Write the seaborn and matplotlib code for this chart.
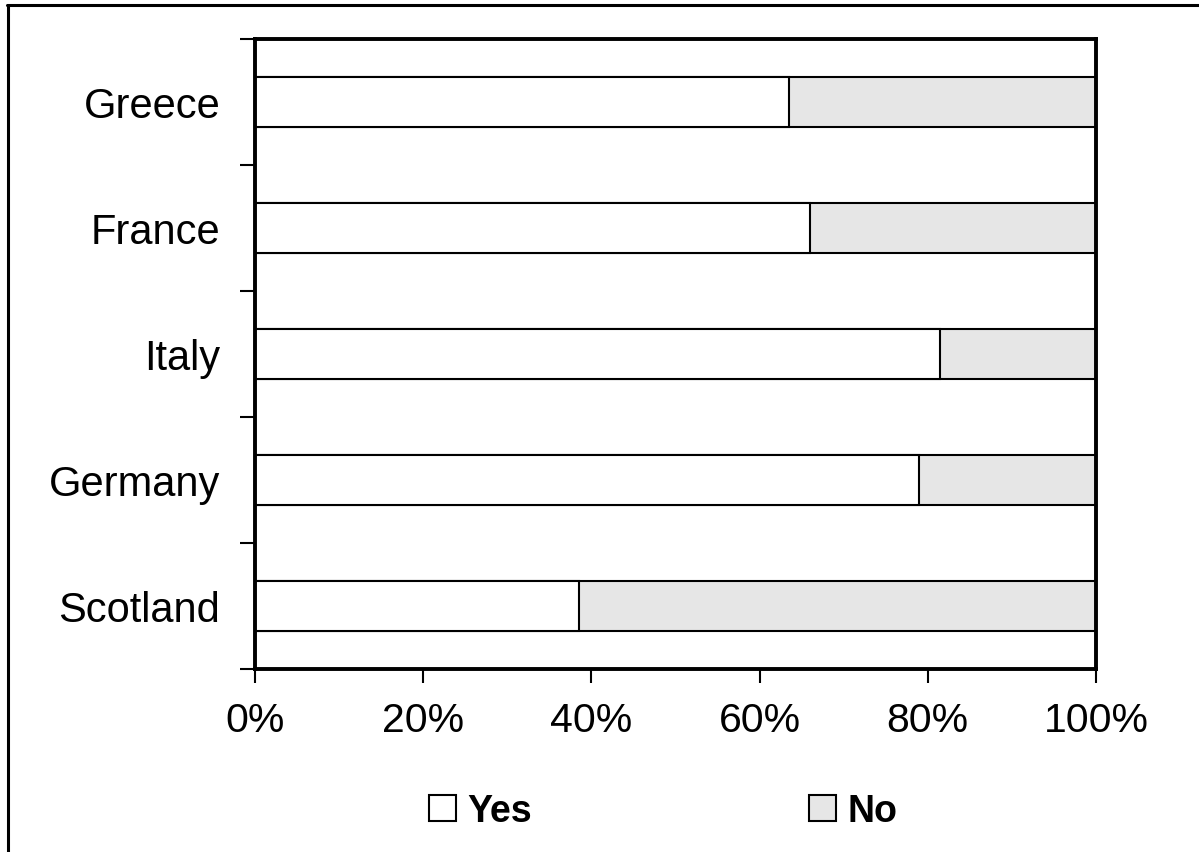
import matplotlib
matplotlib.use("Agg")
import matplotlib.pyplot as plt
import seaborn as sns
import pandas as pd
import numpy as np
from matplotlib.lines import Line2D
from matplotlib.patches import Patch
from matplotlib.ticker import FixedLocator, PercentFormatter

countries = ["Greece", "France", "Italy", "Germany", "Scotland"]
yes = [63.5, 66.0, 81.5, 79.0, 38.5]
no = [36.5, 34.0, 18.5, 21.0, 61.5]
xticks = [0, 20, 40, 60, 80, 100]

sns.set_style("white")
plt.rcParams["font.family"] = ["Liberation Sans", "DejaVu Sans"]
plt.rcParams["text.color"] = "black"
plt.rcParams["xtick.color"] = "black"
plt.rcParams["ytick.color"] = "black"
plt.rcParams["axes.labelcolor"] = "black"

df = pd.DataFrame({"country": countries, "yes": yes, "no": no})
df["total"] = df["yes"] + df["no"]

fig = plt.figure(figsize=(11.99, 8.53), dpi=100)
ax = fig.add_axes([255 / 1199, 1 - 670 / 853, 841 / 1199, 630 / 853])

sns.barplot(data=df, y="country", x="total", orient="h", color="#e6e6e6",
            edgecolor="black", linewidth=1.5, width=0.4, saturation=1, ax=ax)
sns.barplot(data=df, y="country", x="yes", orient="h", color="white",
            edgecolor="black", linewidth=1.5, width=0.4, saturation=1, ax=ax)

ax.set_xlim(0, 100)
ax.set_ylim(4.5, -0.5)
ax.set_xlabel("")
ax.set_ylabel("")
ax.set_xticks(xticks)
ax.xaxis.set_major_formatter(PercentFormatter(decimals=0))
ax.yaxis.set_minor_locator(FixedLocator(np.arange(-0.5, 5, 1)))
ax.tick_params(axis="y", which="major", length=0, pad=25, labelsize=30, labelcolor="black")
ax.tick_params(axis="y", which="minor", length=11, width=1.5, color="black", left=True)
ax.tick_params(axis="x", which="major", length=10, width=1.5, color="black",
               bottom=True, pad=13, labelsize=29.5, labelcolor="black")
for s in ax.spines.values():
    s.set_visible(True)
    s.set_color("black")
    s.set_linewidth(2.8)

handles = [Patch(facecolor="white", edgecolor="black", linewidth=1.5, label="Yes"),
           Patch(facecolor="#e6e6e6", edgecolor="black", linewidth=1.5, label="No")]
fig.legend(handles=handles, loc="center", bbox_to_anchor=(0.553, 0.048), ncol=2,
           frameon=False, prop={"weight": "bold", "size": 27},
           handlelength=0.72, handleheight=0.72, handletextpad=0.3,
           columnspacing=7.4)

fig.add_artist(Line2D([8 / 1199, 8 / 1199], [0, 1 - 6 / 853], transform=fig.transFigure,
                      color="black", linewidth=2.2))
fig.add_artist(Line2D([7 / 1199, 1], [1 - 6 / 853, 1 - 6 / 853], transform=fig.transFigure,
                      color="black", linewidth=2.2))

fig.savefig("out.png", dpi=100)
